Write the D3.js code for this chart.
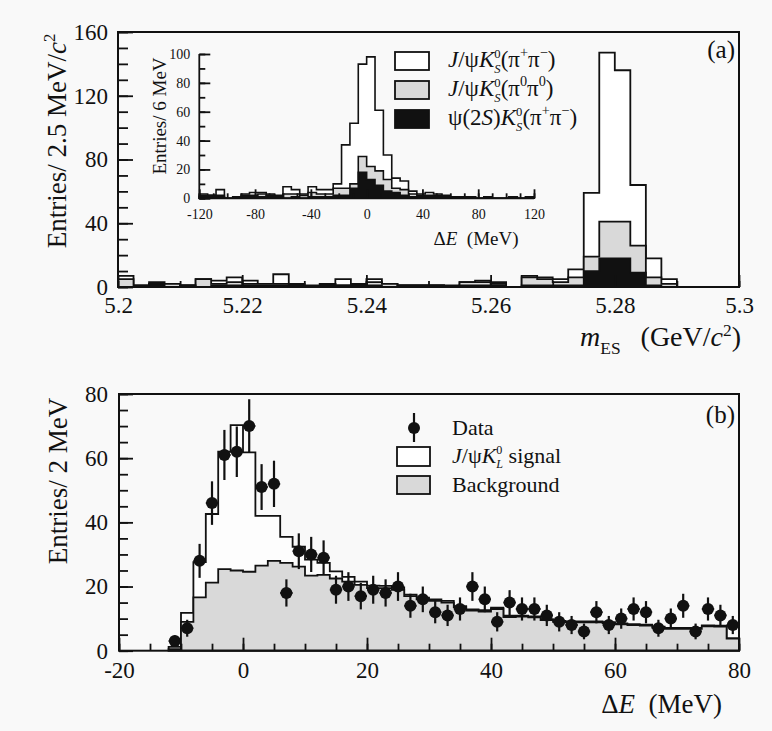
<!DOCTYPE html>
<html>
<head>
<meta charset="utf-8">
<script src="https://cdn.jsdelivr.net/npm/d3@7"></script>
<style>
  body { margin: 0; background: #f9f9f9; }
  svg { display: block; }
  text { font-family: "Liberation Serif", "Times New Roman", serif; fill: #111; white-space: pre; }
</style>
</head>
<body>
<svg id="chart" width="772" height="731"></svg>
<script>
// ---------- (a) m_ES, 2.5 MeV bins from 5.200 to 5.300 GeV (stacked counts) ----------
const mesBinLo = 5.2, mesBinW = 0.0025;
const mesPsi2S   = [0,0,2,0,1,0,1,1,1,1,1,2,0,2,1,2,1,0,1,1,1,0,1,1,1,0,1,1,1,1,10,18,18,9,1,0,0,0,0,0];
const mesPi0Pi0  = [5,1,0,2,0,5,1,2,1,1,1,0,0,0,0,0,2,2,0,0,0,0,2,2,1,0,5,4,2,5,9,23,23,17,5,2,0,0,0,0];
const mesPipPim  = [2,0,1,0,0,0,2,3,2,0,6,0,1,0,4,0,2,0,0,0,0,1,0,1,1,0,1,1,2,5,40,106,95,38,12,3,0,0,0,0];
const mesXTicks = [5.2, 5.22, 5.24, 5.26, 5.28, 5.3];
const mesXLabels = ["5.2", "5.22", "5.24", "5.26", "5.28", "5.3"];
const mesYTicks = [0, 40, 80, 120, 160];

// ---------- inset: ΔE, 6 MeV bins from -120 to 120 MeV ----------
const insBinLo = -120, insBinW = 6;
const insPsi2S  = [1,1,1,0,1,1,1,1,2,1,0,1,0,1,1,1,2,2,7,18,13,9,5,4,2,1,1,1,1,1,1,0,1,0,1,0,0,1,0,1];
const insPi0Pi0 = [1,1,1,0,0,1,1,2,0,0,3,2,2,3,2,2,5,5,3,11,9,10,8,3,4,2,1,1,1,0,0,0,0,0,0,0,0,0,0,0];
const insPipPim = [1,0,4,0,0,1,2,1,1,1,5,3,1,4,3,3,3,30,42,64,76,42,17,7,6,2,1,2,1,1,0,1,0,0,0,0,0,0,0,0];
const insXTicks = [-120, -80, -40, 0, 40, 80, 120];
const insYTicks = [0, 20, 40, 60, 80, 100];

// ---------- (b) ΔE for J/ψ K_L, 2 MeV bins from -12 to 80 MeV ----------
const deBinLo = -12, deBinW = 2;
const deData = [3,7,28,46,61,62,70,51,52,18,31,30,29,19,20,17,19,18,20,14,16,12,11,13,20,16,9,15,13,13,11,9,8,6,12,8,10,13,12,7,10,14,6,13,11,8];
const deBackground = [0.5,9,16.6,21.2,25.4,25.0,24.6,26.5,28.0,27.4,26.2,23.4,23.6,22.5,21.5,20.5,19.5,19.5,19.0,17.0,16.0,15.5,15.0,13.5,12.5,12.2,13.0,10.5,10.6,10.4,9.5,9.0,8.8,8.8,8.8,8.6,8.2,8.0,7.8,7.2,6.8,6.8,6.8,7.6,7.5,3.8];
const deSignal = [0.7,2.8,11,21.4,36.6,45.3,37.2,15.5,14,8.1,6.2,5,3.8,2.2,1.5,1.0,0.8,0.7,0.7,0.5,0.5,0.5,0.5,0.4,0.4,0.4,0.4,0.4,0.3,0.3,0.3,0.3,0.3,0.3,0.3,0.3,0.3,0.3,0.3,0.3,0.3,0.3,0.3,0.3,0.3,0];
const deXTicks = [-20, 0, 20, 40, 60, 80];
const deYTicks = [0, 20, 40, 60, 80];

const GREY = "#d9d9d9", INK = "#111";
const FONT = '"Liberation Serif", "Times New Roman", serif';
const svg = d3.select("#chart");
svg.append("rect").attr("width", 772).attr("height", 731).attr("fill", "#f9f9f9");

// Text built from pieces so that sub/superscripts can be stacked.
function rich(parent, x, y, segs, size, anchor) {
  const g = parent.append("g");
  let cx = 0, pending = 0;
  segs.forEach(s => {
    const fs = s.pos ? size * (s.k || 0.62) : size;
    const dy = s.pos === "sup" ? -size * (s.up || 0.42) : s.pos === "sub" ? size * (s.down || 0.30) : 0;
    const t = g.append("text").attr("x", cx + (s.dx || 0)).attr("y", dy)
      .attr("font-size", fs).style("font-family", FONT)
      .attr("font-style", s.i ? "italic" : "normal").text(s.t);
    const w = t.node().getComputedTextLength() + (s.dx || 0);
    if (s.stack) { pending = w; }
    else { cx += Math.max(w, pending); pending = 0; }
  });
  const shift = anchor === "middle" ? -cx / 2 : anchor === "end" ? -cx : 0;
  g.attr("transform", `translate(${x + shift},${y})`);
  return g;
}
function rotated(x, y, segs, size) {
  const g = svg.append("g").attr("transform", `translate(${x},${y}) rotate(-90)`);
  rich(g, 0, 0, segs, size, "middle");
}
// K with a stacked ⁰ superscript and a letter subscript
function kaon(sub) {
  return [{t: "K", i: true}, {t: "0", pos: "sup", stack: true, k: 0.55, up: 0.40},
          {t: sub, pos: "sub", i: true, k: 0.55, down: 0.24}];
}

function stepArea(x, y, lo, w, vals) {
  const pts = vals.map((v, i) => [lo + i * w, v]);
  pts.push([lo + vals.length * w, vals[vals.length - 1]]);
  return d3.area().x(d => x(d[0])).y0(y(0)).y1(d => y(d[1])).curve(d3.curveStepAfter)(pts);
}
function cum(...arrs) { return arrs[0].map((_, i) => arrs.reduce((s, a) => s + a[i], 0)); }

function axes(g, x, y, o) {
  const bottom = y.range()[0], left = x.range()[0];
  const styleText = a => a.selectAll("text").attr("font-size", o.fs).attr("fill", INK).style("font-family", FONT);
  g.append("g").attr("transform", `translate(0,${bottom})`)
    .call(d3.axisBottom(x).tickValues(o.xMinor).tickSizeInner(-o.xMinorLen).tickSizeOuter(0).tickFormat(""))
    .call(a => a.select(".domain").remove());
  g.append("g").attr("transform", `translate(0,${bottom})`)
    .call(d3.axisBottom(x).tickValues(o.xMajor).tickSizeInner(-o.xMajorLen).tickSizeOuter(0)
      .tickPadding(o.xPad).tickFormat((d, i) => o.xLabels ? o.xLabels[i] : d))
    .call(a => a.select(".domain").remove()).call(styleText);
  g.append("g").attr("transform", `translate(${left},0)`)
    .call(d3.axisLeft(y).tickValues(o.yMinor).tickSizeInner(-o.yMinorLen).tickSizeOuter(0).tickFormat(""))
    .call(a => a.select(".domain").remove());
  g.append("g").attr("transform", `translate(${left},0)`)
    .call(d3.axisLeft(y).tickValues(o.yMajor).tickSizeInner(-o.yMajorLen).tickSizeOuter(0).tickPadding(o.yPad))
    .call(a => a.select(".domain").remove()).call(styleText);
  g.selectAll(".tick line").attr("stroke", INK).attr("stroke-width", 1.8);
}

// ===================== panel (a) =====================
const xa = d3.scaleLinear().domain([5.2, 5.3]).range([118, 739]);
const ya = d3.scaleLinear().domain([0, 160]).range([287, 32]);
const ga = svg.append("g");
const aTot = cum(mesPsi2S, mesPi0Pi0, mesPipPim), aMid = cum(mesPsi2S, mesPi0Pi0);
ga.append("path").attr("d", stepArea(xa, ya, mesBinLo, mesBinW, aTot)).attr("fill", "#fff").attr("stroke", INK).attr("stroke-width", 1.8);
ga.append("path").attr("d", stepArea(xa, ya, mesBinLo, mesBinW, aMid)).attr("fill", GREY).attr("stroke", INK).attr("stroke-width", 1.8);
ga.append("path").attr("d", stepArea(xa, ya, mesBinLo, mesBinW, mesPsi2S)).attr("fill", INK).attr("stroke", INK).attr("stroke-width", 1.8);
axes(ga, xa, ya, {
  xMajor: mesXTicks, xLabels: mesXLabels, xMinor: d3.range(5.2, 5.3001, 0.01), xMajorLen: 12, xMinorLen: 6, xPad: 10,
  yMajor: mesYTicks, yMinor: d3.range(0, 161, 10), yMajorLen: 15, yMinorLen: 10, yPad: 10, fs: 23
});
ga.append("rect").attr("x", 118).attr("y", 32).attr("width", 621).attr("height", 255)
  .attr("fill", "none").attr("stroke", INK).attr("stroke-width", 2);
rotated(66, 141, [{t: "Entries/ 2.5 MeV/"}, {t: "c", i: true}, {t: "2", pos: "sup"}], 27);
rich(svg, 741, 346, [{t: "m", i: true}, {t: "ES", pos: "sub"}, {t: "  (GeV/", dx: 6}, {t: "c", i: true}, {t: "2", pos: "sup", up: 0.34}, {t: ")"}], 28, "end");
rich(svg, 735, 58, [{t: "(a)"}], 25, "end");

// legend (a)
const legA = [
  {fill: "#fff", segs: [{t: "J", i: true}, {t: "/ψ"}, ...kaon("S"), {t: "(π"}, {t: "+", pos: "sup"}, {t: "π"}, {t: "−", pos: "sup"}, {t: ")"}]},
  {fill: GREY, segs: [{t: "J", i: true}, {t: "/ψ"}, ...kaon("S"), {t: "(π"}, {t: "0", pos: "sup"}, {t: "π"}, {t: "0", pos: "sup"}, {t: ")"}]},
  {fill: INK, segs: [{t: "ψ(2"}, {t: "S", i: true}, {t: ")"}, ...kaon("S"), {t: "(π"}, {t: "+", pos: "sup"}, {t: "π"}, {t: "−", pos: "sup"}, {t: ")"}]}
];
legA.forEach((d, i) => {
  const yy = 52 + i * 29;
  svg.append("rect").attr("x", 395).attr("y", yy).attr("width", 34).attr("height", 18)
    .attr("fill", d.fill).attr("stroke", INK).attr("stroke-width", 1.8);
  rich(svg, 448, yy + 15, d.segs, 23, "start");
});

// ===================== inset =====================
const xi = d3.scaleLinear().domain([-120, 120]).range([199.3, 534]);
const yi = d3.scaleLinear().domain([0, 100]).range([198.3, 54]);
const gi = svg.append("g");
const iTot = cum(insPsi2S, insPi0Pi0, insPipPim), iMid = cum(insPsi2S, insPi0Pi0);
gi.append("path").attr("d", stepArea(xi, yi, insBinLo, insBinW, iTot)).attr("fill", "#fff").attr("stroke", INK).attr("stroke-width", 1.6);
gi.append("path").attr("d", stepArea(xi, yi, insBinLo, insBinW, iMid)).attr("fill", GREY).attr("stroke", INK).attr("stroke-width", 1.6);
gi.append("path").attr("d", stepArea(xi, yi, insBinLo, insBinW, insPsi2S)).attr("fill", INK).attr("stroke", INK).attr("stroke-width", 1.6);
axes(gi, xi, yi, {
  xMajor: insXTicks, xMinor: d3.range(-120, 121, 10), xMajorLen: 9, xMinorLen: 5, xPad: 11,
  yMajor: insYTicks, yMinor: d3.range(0, 101, 10), yMajorLen: 11, yMinorLen: 6, yPad: 9, fs: 14
});
gi.append("path").attr("d", `M199.3,54V198.3H534`).attr("fill", "none").attr("stroke", INK).attr("stroke-width", 1.8);
rotated(166, 116, [{t: "Entries/ 6 MeV"}], 19);
rich(svg, 476, 245, [{t: "Δ"}, {t: "E", i: true}, {t: "  (MeV)"}], 19, "middle");

// ===================== panel (b) =====================
const xb = d3.scaleLinear().domain([-20, 80]).range([119, 739]);
const yb = d3.scaleLinear().domain([0, 80]).range([650.7, 394]);
const gb = svg.append("g");
const bTot = cum(deBackground, deSignal);
gb.append("path").attr("d", stepArea(xb, yb, deBinLo, deBinW, bTot)).attr("fill", "#fdfdfd").attr("stroke", INK).attr("stroke-width", 1.8);
gb.append("path").attr("d", stepArea(xb, yb, deBinLo, deBinW, deBackground)).attr("fill", GREY).attr("stroke", INK).attr("stroke-width", 1.8);
axes(gb, xb, yb, {
  xMajor: deXTicks, xMinor: d3.range(-20, 81, 5), xMajorLen: 13, xMinorLen: 7, xPad: 11,
  yMajor: deYTicks, yMinor: d3.range(0, 81, 5), yMajorLen: 14, yMinorLen: 9, yPad: 11, fs: 23
});
const pts = gb.append("g");
deData.forEach((n, i) => {
  const c = deBinLo + deBinW * (i + 0.5), e = Math.sqrt(n);
  pts.append("line").attr("x1", xb(c)).attr("x2", xb(c)).attr("y1", yb(n - e)).attr("y2", yb(n + e))
    .attr("stroke", INK).attr("stroke-width", 2.2);
  pts.append("line").attr("x1", xb(c - deBinW / 2)).attr("x2", xb(c + deBinW / 2)).attr("y1", yb(n)).attr("y2", yb(n))
    .attr("stroke", INK).attr("stroke-width", 2);
  pts.append("circle").attr("cx", xb(c)).attr("cy", yb(n)).attr("r", 6).attr("fill", INK);
});
gb.append("rect").attr("x", 119).attr("y", 394).attr("width", 620).attr("height", 256.7)
  .attr("fill", "none").attr("stroke", INK).attr("stroke-width", 2);
rotated(67, 481, [{t: "Entries/ 2 MeV"}], 27);
rich(svg, 722, 713, [{t: "Δ"}, {t: "E", i: true}, {t: "  (MeV)"}], 27, "end");
rich(svg, 735, 423, [{t: "(b)"}], 25, "end");

// legend (b)
svg.append("line").attr("x1", 414).attr("x2", 414).attr("y1", 413).attr("y2", 442).attr("stroke", INK).attr("stroke-width", 2.2);
svg.append("circle").attr("cx", 414).attr("cy", 428).attr("r", 6).attr("fill", INK);
svg.append("rect").attr("x", 397).attr("y", 447).attr("width", 33).attr("height", 19).attr("fill", "#fff").attr("stroke", INK).attr("stroke-width", 1.8);
svg.append("rect").attr("x", 397).attr("y", 476).attr("width", 33).attr("height", 18).attr("fill", GREY).attr("stroke", INK).attr("stroke-width", 1.8);
rich(svg, 452, 435, [{t: "Data"}], 22, "start");
rich(svg, 452, 463, [{t: "J", i: true}, {t: "/ψ"}, ...kaon("L"), {t: " signal"}], 22, "start");
rich(svg, 452, 492, [{t: "Background"}], 22, "start");
</script>
</body>
</html>
